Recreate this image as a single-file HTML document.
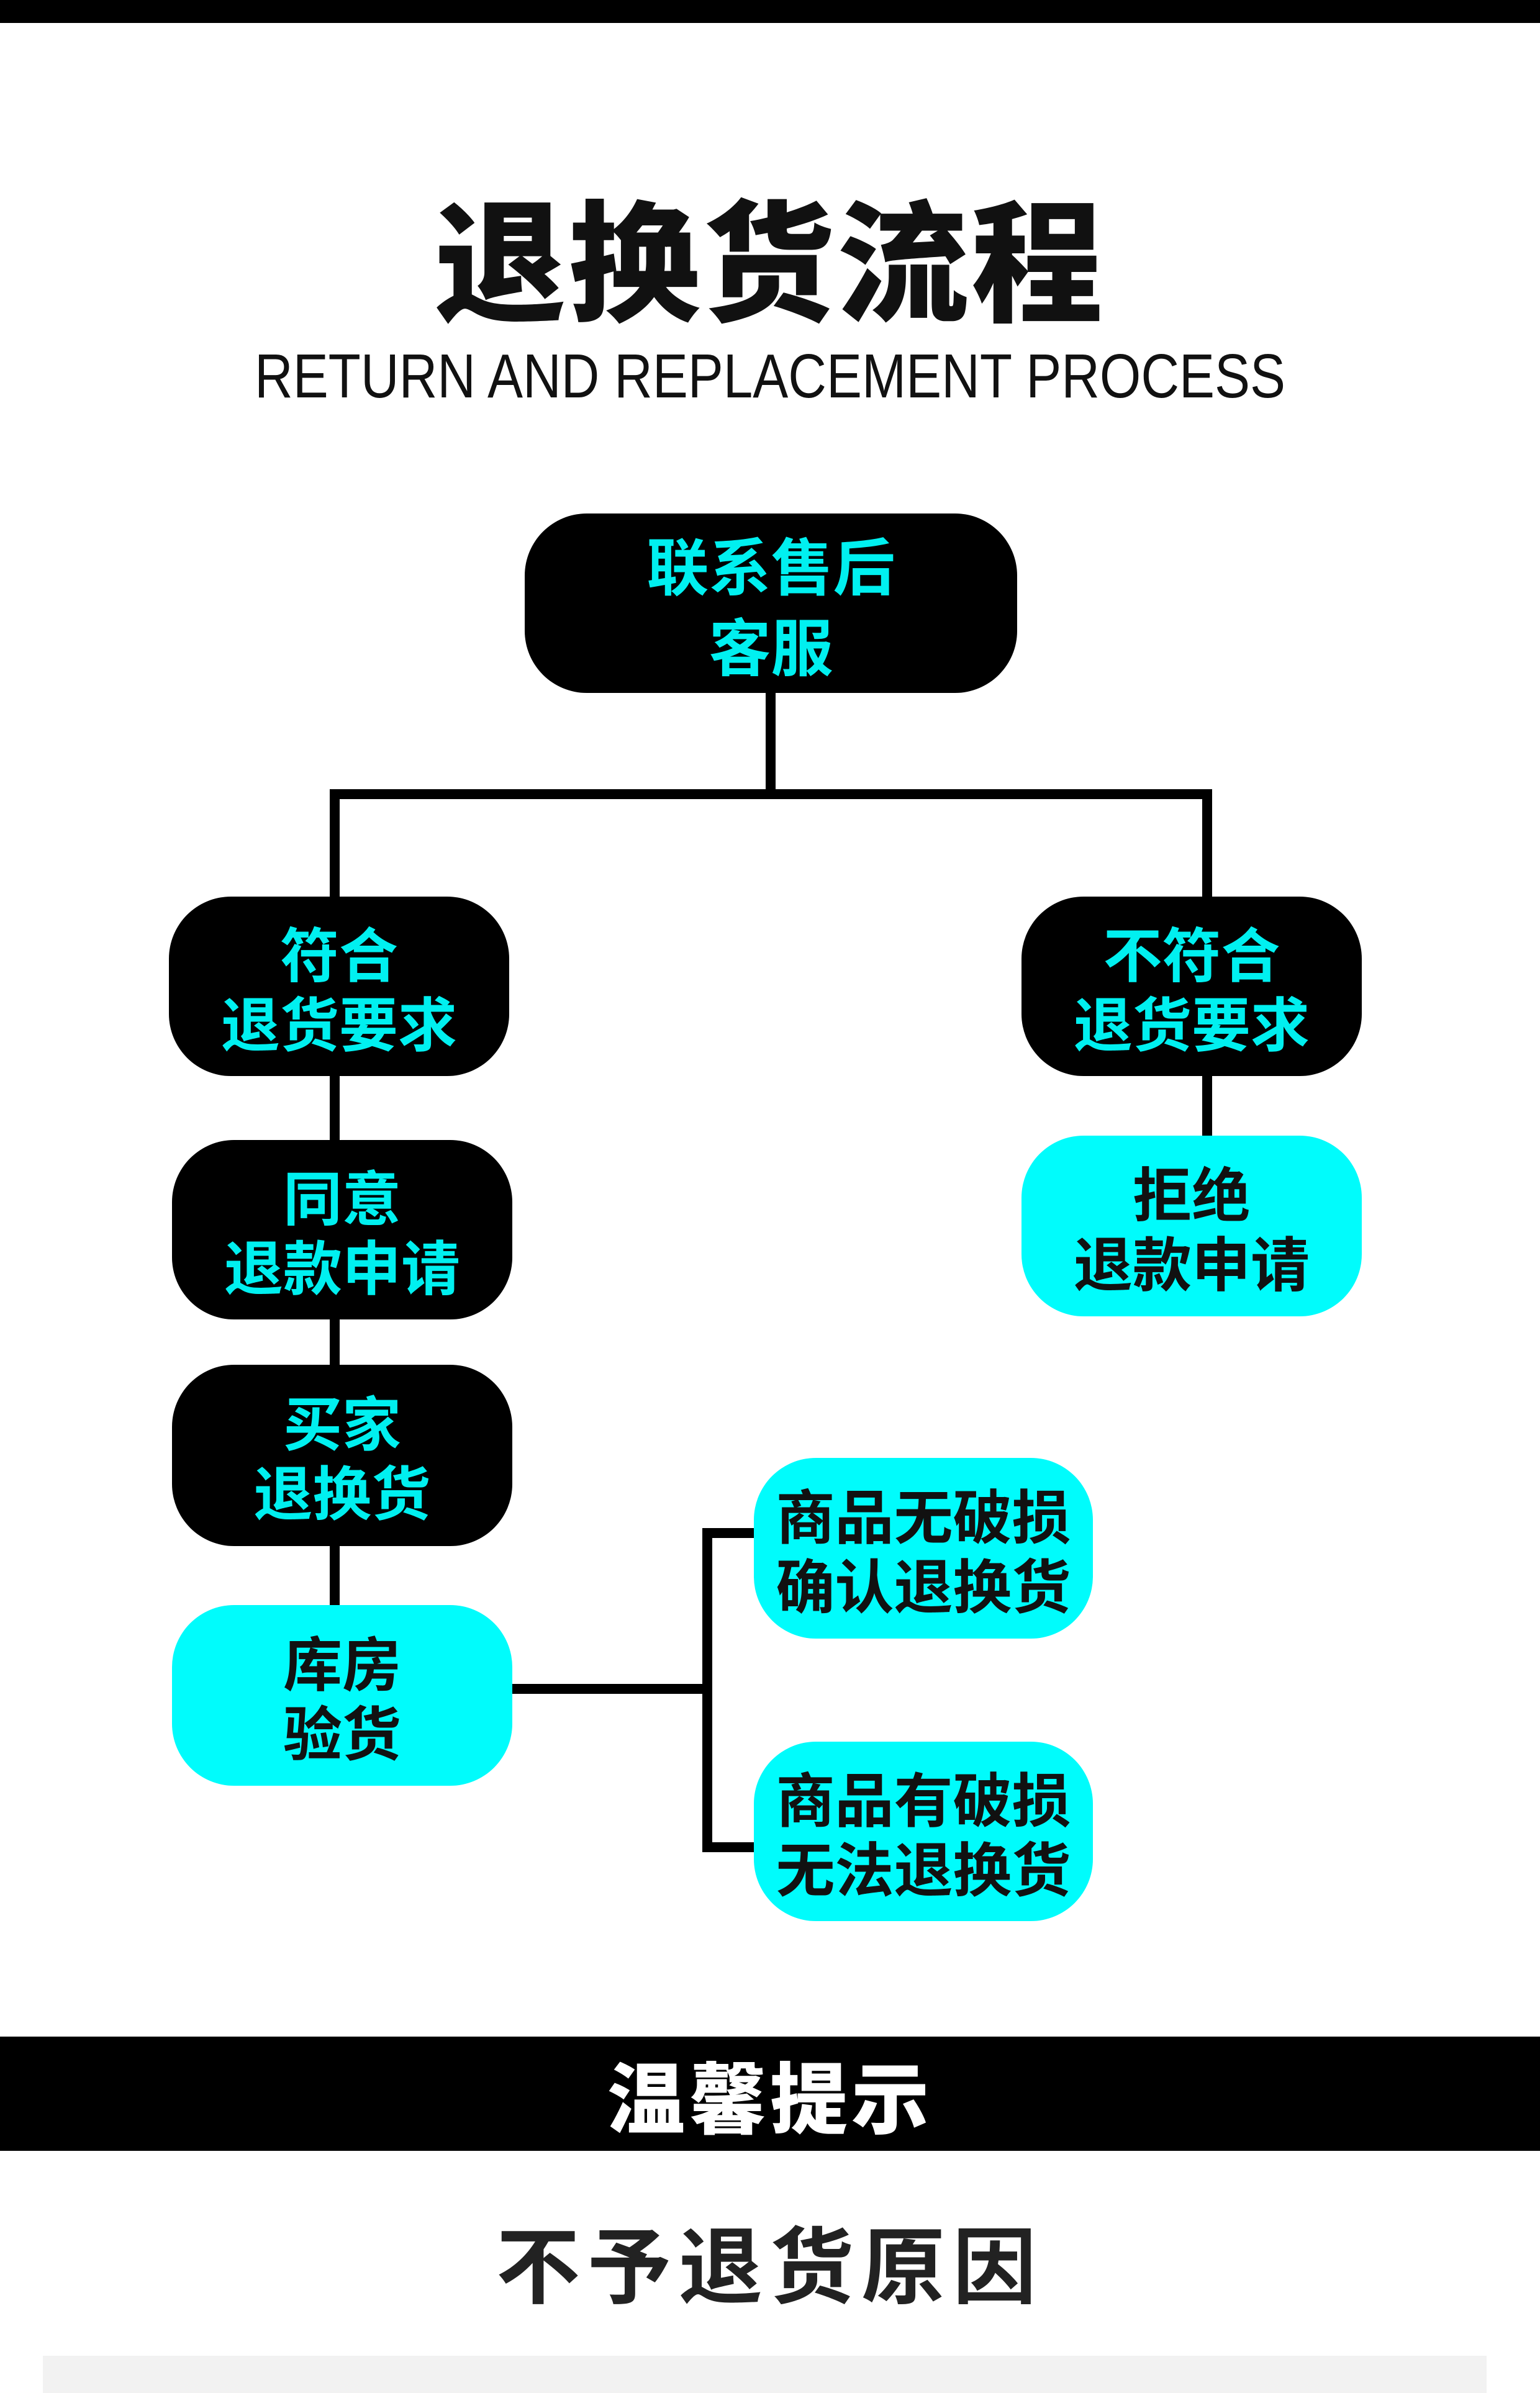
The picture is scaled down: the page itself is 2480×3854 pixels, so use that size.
<!DOCTYPE html>
<html><head><meta charset="utf-8">
<style>
html,body{margin:0;padding:0;}
body{width:2480px;height:3840px;position:relative;background:#fff;overflow:hidden;font-family:"Liberation Sans","Noto Sans CJK SC",sans-serif;}
.a{position:absolute;}
.box{position:absolute;border-radius:100px;display:flex;align-items:center;justify-content:center;text-align:center;font-weight:bold;font-size:95px;line-height:112px;font-family:"Noto Sans CJK SC",sans-serif;}
.bk{background:#000;color:#00f0f0;}
.cy{background:#00fcfc;color:#111;}
.ln{position:absolute;background:#000;}
</style></head><body>
<div class="a" style="left:0;top:0;width:2480px;height:37px;background:#000"></div>
<div class="a" style="left:0;top:280px;width:2480px;text-align:center;font-family:'Noto Sans CJK SC',sans-serif;font-weight:900;font-size:212px;line-height:260px;color:#111;letter-spacing:4px">退换货流程</div>
<svg class="a" style="left:0;top:540px" width="2480" height="120"><text x="1240" y="100" text-anchor="middle" font-family="Liberation Sans, sans-serif" font-size="100" fill="#111" textLength="1660" lengthAdjust="spacingAndGlyphs">RETURN AND REPLACEMENT PROCESS</text></svg>

<!-- connectors -->
<div class="ln" style="left:1233px;top:1110px;width:16px;height:175px"></div>
<div class="ln" style="left:531px;top:1271px;width:1421px;height:16px"></div>
<div class="ln" style="left:531px;top:1271px;width:16px;height:180px"></div>
<div class="ln" style="left:1936px;top:1271px;width:16px;height:180px"></div>
<div class="ln" style="left:531px;top:1720px;width:16px;height:880px"></div>
<div class="ln" style="left:1936px;top:1720px;width:16px;height:120px"></div>
<div class="ln" style="left:820px;top:2712px;width:326px;height:16px"></div>
<div class="ln" style="left:1131px;top:2461px;width:16px;height:522px"></div>
<div class="ln" style="left:1131px;top:2461px;width:100px;height:16px"></div>
<div class="ln" style="left:1131px;top:2967px;width:100px;height:16px"></div>

<div class="box bk" style="left:845px;top:827px;width:793px;height:289px;font-size:100px;line-height:130px">联系售后<br>客服</div>
<div class="box bk" style="left:272px;top:1444px;width:548px;height:289px">符合<br>退货要求</div>
<div class="box bk" style="left:1645px;top:1444px;width:548px;height:289px">不符合<br>退货要求</div>
<div class="box bk" style="left:277px;top:1836px;width:548px;height:289px">同意<br>退款申请</div>
<div class="box cy" style="left:1645px;top:1829px;width:548px;height:291px">拒绝<br>退款申请</div>
<div class="box bk" style="left:277px;top:2198px;width:548px;height:292px">买家<br>退换货</div>
<div class="box cy" style="left:277px;top:2585px;width:548px;height:291px">库房<br>验货</div>
<div class="box cy" style="left:1214px;top:2348px;width:546px;height:291px">商品无破损<br>确认退换货</div>
<div class="box cy" style="left:1214px;top:2805px;width:546px;height:289px">商品有破损<br>无法退换货</div>

<div class="a" style="left:0;top:3280px;width:2480px;height:184px;background:#000"></div>
<div class="a" style="left:0;top:3280px;width:2480px;height:184px;line-height:184px;text-align:center;color:#fff;font-family:'Noto Sans CJK SC',sans-serif;font-weight:900;font-size:125px;letter-spacing:6px">温馨提示</div>
<div class="a" style="left:0;top:3560px;width:2480px;text-align:center;color:#222;font-family:'Noto Sans CJK SC',sans-serif;font-weight:bold;font-size:135px;line-height:160px;letter-spacing:12px">不予退货原因</div>
<div class="a" style="left:69px;top:3794px;width:2325px;height:60px;background:#f2f2f2"></div>
</body></html>
